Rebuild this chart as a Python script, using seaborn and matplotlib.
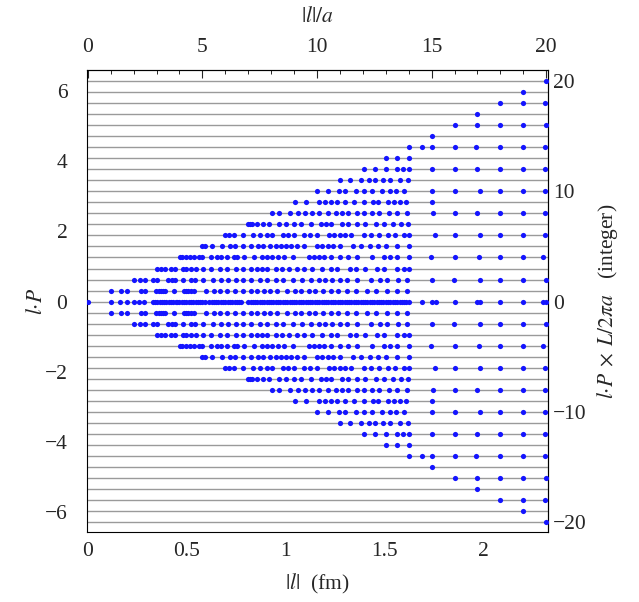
import numpy as np
import pandas as pd
import seaborn as sns
import matplotlib.pyplot as plt
from matplotlib.ticker import FixedLocator, FuncFormatter

# lattice spacing (fm) and box size L/a
a_fm = 0.116
n_L = 20

# |l|/a positions of the points on each row k = l.P x L/2pi a (k >= 0, negative rows mirror these)
row_0 = [0.0, 1.0, 1.41, 1.73, 2.0, 2.24, 2.45,
         2.83, 2.93, 3.03, 3.13, 3.23, 3.33, 3.43, 3.53, 3.63, 3.73, 3.83, 3.91,
         4.0, 4.1, 4.2, 4.3, 4.4, 4.5, 4.6, 4.7, 4.8, 4.9, 5.0, 5.1,
         5.3, 5.4, 5.5, 5.6, 5.7, 5.8, 5.9, 6.0, 6.1, 6.2, 6.3, 6.4, 6.5, 6.6, 6.7,
         7.0, 7.1, 7.2, 7.3, 7.4, 7.5, 7.6, 7.7, 7.8, 7.9, 8.0, 8.1, 8.2, 8.3, 8.4,
         8.5, 8.6, 8.7, 8.8, 8.9, 9.0, 9.1, 9.2, 9.3, 9.4, 9.5, 9.6, 9.7, 9.8, 9.9,
         10.0, 10.1, 10.2, 10.3, 10.4, 10.5, 10.6, 10.7, 10.8, 10.9, 11.0, 11.1, 11.2,
         11.3, 11.4, 11.5, 11.6, 11.7, 11.8, 11.9, 12.0, 12.1, 12.2, 12.3, 12.4, 12.5,
         12.6, 12.7, 12.8, 12.9, 13.0, 13.1, 13.2, 13.3, 13.4, 13.5, 13.6, 13.7, 13.8,
         13.9, 14.0,
         14.58, 15.0, 15.2, 16.0, 16.98, 17.12, 18.0, 19.0, 19.87, 20.0]
row_1 = [1.03, 1.44, 1.73, 2.31, 2.48, 2.99, 3.1, 3.18, 3.3, 3.36, 3.76, 4.18, 4.28,
         4.37, 4.5, 4.62, 5.17, 5.5, 5.75, 6.09, 6.43, 6.77, 7.13, 7.39, 7.68, 7.97,
         8.27, 8.67, 9.02, 9.31, 9.64, 9.93, 10.27, 10.59, 10.91, 11.29, 11.72, 12.16,
         12.59, 13.06, 13.49, 13.93]
row_2 = [2.02, 2.27, 2.48, 2.85, 3.04, 3.5, 3.67, 3.82, 4.15, 4.52, 4.66, 5.02, 5.46,
         5.83, 6.11, 6.48, 6.77, 7.13, 7.51, 7.8, 8.19, 8.52, 8.96, 9.36, 9.75, 10.08,
         10.37, 10.66, 11.02, 11.31, 11.75, 12.36, 12.74, 13.06, 13.52, 13.93,
         15.0, 15.96, 17.1, 18.0, 19.0, 20.0]
row_3 = [3.04, 3.18, 3.36, 3.65, 3.79, 4.15, 4.3, 4.49, 4.74, 5.02, 5.39, 5.75, 6.09,
         6.45, 6.77, 7.13, 7.36, 7.58, 7.83, 8.19, 8.48, 8.77, 9.14, 9.42, 9.79, 10.22,
         10.59, 10.88, 11.46, 11.72, 12.11, 12.62, 12.91, 13.49, 13.81, 14.0]
row_4 = [4.02, 4.13, 4.27, 4.46, 4.63, 4.85, 5.0, 5.36, 5.65, 5.83, 6.09, 6.38, 6.52,
         6.81, 7.25, 7.61, 7.83, 8.05, 8.29, 8.58, 8.96, 9.64, 9.86, 10.08, 10.3, 10.59,
         11.02, 11.34, 11.75, 12.4, 12.91, 13.2, 13.49, 14.0,
         14.97, 16.03, 17.05, 17.97, 19.0, 19.84]
row_5 = [5.0, 5.1, 5.43, 5.85, 6.2, 6.43, 6.77, 7.13, 7.42, 7.66, 7.94, 8.19, 8.41,
         8.63, 8.85, 9.14, 9.42, 9.98, 10.22, 10.47, 10.7, 11.02, 11.57, 11.9, 12.3,
         12.65, 13.03, 13.49, 14.0]
row_6 = [6.0, 6.15, 6.36, 6.75, 7.2, 7.51, 7.8, 8.05, 8.51, 8.73, 8.99, 9.42, 9.69,
         9.98, 10.51, 10.76, 10.99, 11.24, 11.49, 12.04, 12.36, 12.69, 13.09, 13.42,
         13.78, 14.0,
         15.13, 16.03, 17.1, 18.0, 19.0, 19.96]
row_7 = [7.0, 7.07, 7.18, 7.36, 7.66, 7.9, 8.34, 8.63, 8.99, 9.28, 9.72, 10.18, 10.41,
         10.62, 11.1, 11.34, 11.75, 12.11, 12.59, 12.91, 13.32, 13.67, 13.96]
row_8 = [8.02, 8.34, 8.8, 9.18, 9.46, 9.79, 10.07, 10.46, 10.85, 11.1, 11.34, 11.76,
         12.04, 12.42, 12.72, 13.15, 13.5, 13.94,
         15.05, 16.03, 17.0, 18.0, 19.0, 19.96]
row_9 = [9.02, 9.51, 10.07, 10.33, 10.63, 10.88, 11.24, 11.6, 12.06, 12.45, 12.68, 13.1,
         13.35, 13.61, 13.9, 15.0]
row_10 = [10.02, 10.47, 10.95, 11.2, 11.72, 12.06, 12.39, 12.82, 13.17, 13.46, 13.8,
          15.0, 16.03, 17.1, 18.0, 19.0, 19.96]
row_11 = [11.02, 11.42, 11.9, 12.27, 12.55, 12.9, 13.2, 13.6, 13.99]
row_12 = [12.03, 12.55, 13.01, 13.49, 13.76, 14.01, 15.0, 16.0, 17.0, 18.0, 19.0, 19.96]
row_13 = [13.01, 13.5, 14.0]
row_14 = [14.03, 14.57, 15.02, 16.0, 16.94, 18.0, 19.0, 19.96]
row_15 = [15.02]
row_16 = [16.0, 17.0, 18.0, 19.0, 20.0]
row_17 = [17.0]
row_18 = [18.0, 19.0, 19.96]
row_19 = [19.0]
row_20 = [20.0]

rows = [row_0, row_1, row_2, row_3, row_4, row_5, row_6, row_7, row_8, row_9, row_10,
        row_11, row_12, row_13, row_14, row_15, row_16, row_17, row_18, row_19, row_20]

# tick positions
fm_ticks = [0, 0.5, 1, 1.5, 2]
fm_minor = [0.1, 0.2, 0.3, 0.4, 0.6, 0.7, 0.8, 0.9, 1.1, 1.2, 1.3, 1.4,
            1.6, 1.7, 1.8, 1.9, 2.1, 2.2, 2.3]
lat_ticks = [0, 5, 10, 15, 20]
lat_minor = [1, 2, 3, 4, 6, 7, 8, 9, 11, 12, 13, 14, 16, 17, 18, 19]
lp_ticks = [-6, -4, -2, 0, 2, 4, 6]
lp_minor = [-6.5, -5.5, -5, -4.5, -3.5, -3, -2.5, -1.5, -1, -0.5,
            0.5, 1, 1.5, 2.5, 3, 3.5, 4.5, 5, 5.5, 6.5]
int_ticks = [-20, -10, 0, 10, 20]
int_minor = [-18, -16, -14, -12, -8, -6, -4, -2, 2, 4, 6, 8, 12, 14, 16, 18]

# Build the table (the plot is symmetric in k)
records = []
for k, xs in enumerate(rows):
    for x in xs:
        records.append((x, k))
        if k > 0:
            records.append((x, -k))
df = pd.DataFrame(records, columns=['l_lat', 'k'])
df['l_fm'] = df['l_lat'] * a_fm
df['lP'] = df['k'] * 2 * np.pi / n_L

sns.set_style('white')
plt.rcParams['font.family'] = ['Liberation Serif', 'DejaVu Serif']
plt.rcParams['mathtext.fontset'] = 'stix'
fs = 15.5

fig = plt.figure(figsize=(6.39, 6.02), dpi=100)
ax = fig.add_axes([0.136, 0.116, 0.722, 0.767])

# horizontal lines at every integer value of l.P x L/2pi a
for k in range(-n_L, n_L + 1):
    ax.axhline(k * 2 * np.pi / n_L, color='#9a9a9a', lw=1.0, zorder=1)

sns.scatterplot(data=df, x='l_fm', y='lP', color='#1414ff', s=14, linewidth=0,
                ax=ax, zorder=3, legend=False)

ax.set_xlim(-0.04 * a_fm, 20.09 * a_fm)
ax.set_ylim(-6.56, 6.58)

for s in ax.spines.values():
    s.set_color('black')
    s.set_linewidth(0.8)

ax.xaxis.set_major_locator(FixedLocator(fm_ticks))
ax.xaxis.set_minor_locator(FixedLocator(fm_minor))
ax.xaxis.set_major_formatter(FuncFormatter(lambda v, p: '%g' % round(v, 2)))
ax.yaxis.set_major_locator(FixedLocator(lp_ticks))
ax.yaxis.set_minor_locator(FixedLocator(lp_minor))
ax.tick_params(which='both', direction='in', labelsize=fs, color='black')
ax.tick_params(which='major', length=6, width=0.8)
ax.tick_params(which='minor', length=3, width=0.7)
ax.tick_params(axis='x', which='major', pad=7)
ax.tick_params(axis='y', which='major', pad=14)

ax.set_xlabel(r'$|l|$  (fm)', fontsize=fs, labelpad=8)
ax.set_ylabel(r'$l{\cdot}P$', fontsize=fs, labelpad=-2)

top = ax.secondary_xaxis('top', functions=(lambda x: x / a_fm, lambda x: x * a_fm))
top.xaxis.set_major_locator(FixedLocator(lat_ticks))
top.xaxis.set_minor_locator(FixedLocator(lat_minor))
top.tick_params(which='both', direction='in', labelsize=fs)
top.tick_params(which='major', length=6, width=0.8, pad=10)
top.tick_params(which='minor', length=3, width=0.7)
top.set_xlabel(r'$|l|/a$', fontsize=fs, labelpad=11)

right = ax.secondary_yaxis('right', functions=(lambda y: y * n_L / (2 * np.pi),
                                               lambda y: y * 2 * np.pi / n_L))
right.yaxis.set_major_locator(FixedLocator(int_ticks))
right.yaxis.set_minor_locator(FixedLocator(int_minor))
right.tick_params(which='both', direction='in', labelsize=fs)
right.tick_params(which='major', length=6, width=0.8)
right.tick_params(which='minor', length=3, width=0.7)
right.set_ylabel(r'$l{\cdot}P\;\times\;L/2\pi a$   (integer)', fontsize=fs, labelpad=6)

plt.savefig('out.png', dpi=100)
